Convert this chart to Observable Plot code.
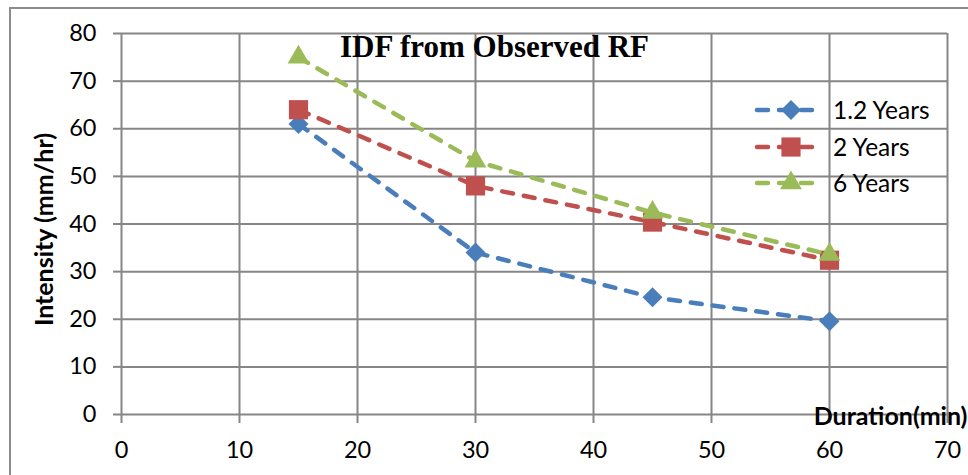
<!DOCTYPE html>
<html><head><meta charset="utf-8">
<script src="https://cdn.jsdelivr.net/npm/d3@7"></script>
<script src="https://cdn.jsdelivr.net/npm/@observablehq/plot@0.6"></script>
<style>
html,body{margin:0;padding:0;background:#fff;}
#wrap{position:relative;width:968px;height:475px;overflow:hidden;font-family:Lato,"Liberation Sans",Arial,sans-serif;background:#fff;}
#borderL{position:absolute;left:9px;top:7px;width:2px;height:470px;background:#8c8c8c;}
#borderT{position:absolute;left:9px;top:7px;width:962px;height:2px;background:#8c8c8c;}
#chart{position:absolute;left:0;top:0;}
#legend{position:absolute;left:750px;top:90px;}
</style></head><body>
<div id="wrap"><div id="borderL"></div><div id="borderT"></div><div id="chart"></div><div id="legend"></div></div>
<script>
// ---- data ----
const durations = [15, 30, 45, 60];
const seriesNames = ["1.2 Years", "2 Years", "6 Years"];
const years1_2 = [61, 34, 24.6, 19.6];
const years2 = [64, 48, 40.4, 32.4];
const years6 = [75, 53.2, 42.4, 33.6];
const xTicks = [0, 10, 20, 30, 40, 50, 60, 70];
const yTicks = [0, 10, 20, 30, 40, 50, 60, 70, 80];
const titleText = "IDF from Observed RF";
const xLabel = "Duration(min)";
const yLabel = "Intensity (mm/hr)";

const seriesValues = [years1_2, years2, years6];
const colors = ["#4A7EBB", "#C0504D", "#9BBB59"];
const symbols = ["diamond2", "square2", "triangle2"];
const radii = [9, 12.2, 10.4];
const sans = "Lato, 'Liberation Sans', Arial, sans-serif";

const rows = seriesNames.map((s, i) => durations.map((d, j) => ({series: s, duration: d, intensity: seriesValues[i][j]})));

const gridStyle = {stroke: "#868686", strokeOpacity: 1, strokeWidth: 2};
const seriesMarks = rows.flatMap((r, i) => [
  Plot.line(r, {x: "duration", y: "intensity", stroke: colors[i], strokeWidth: 4.5, strokeDasharray: "11,11", strokeLinecap: "round"}),
  Plot.dot(r, {x: "duration", y: "intensity", symbol: symbols[i], r: radii[i], fill: colors[i], stroke: "none"})
]);

const chart = Plot.plot({
  width: 968, height: 475,
  marginLeft: 121, marginRight: 21, marginTop: 33, marginBottom: 61,
  style: {background: "transparent", fontFamily: sans, color: "#000", overflow: "visible"},
  x: {domain: [0, 70]},
  y: {domain: [0, 80]},
  marks: [
    Plot.gridX(xTicks, gridStyle),
    Plot.gridY(yTicks, gridStyle),
    Plot.axisX(xTicks, {tickSize: 9, tickPadding: 18, fontSize: 23.5, stroke: "#868686", strokeWidth: 2, fill: "#000", label: null}),
    Plot.axisY(yTicks, {tickSize: 8, tickPadding: 17, fontSize: 23.5, stroke: "#868686", strokeWidth: 2, fill: "#000", label: null}),
    ...seriesMarks,
    Plot.text([titleText], {frameAnchor: "top", dx: -40, dy: 14, fontSize: 31, fontWeight: "bold", fontFamily: "'Liberation Serif', 'Times New Roman', serif", lineAnchor: "middle", fill: "#000"}),
    Plot.text([yLabel], {frameAnchor: "left", textAnchor: "middle", rotate: -90, dx: -77, dy: 5.5, fontSize: 25, fontWeight: "bold", lineAnchor: "middle", fill: "#000"}),
    Plot.text([xLabel], {frameAnchor: "bottom-right", textAnchor: "end", dx: 20, dy: 2.5, fontSize: 25, fontWeight: "bold", lineAnchor: "middle", fill: "#000"})
  ]
});
document.getElementById("chart").appendChild(chart);

// ---- legend ----
const lg = d3.select("#legend").append("svg").attr("width", 215).attr("height", 115)
  .style("font-family", sans).style("overflow", "visible");
const rowY = [20, 57, 93];
seriesNames.forEach((s, i) => {
  const g = lg.append("g").attr("transform", `translate(0,${rowY[i]})`);
  g.append("line").attr("x1", 7).attr("x2", 65).attr("y1", 0).attr("y2", 0)
    .attr("stroke", colors[i]).attr("stroke-width", 4.5).attr("stroke-dasharray", "11,11").attr("stroke-linecap", "round");
  g.append("path").attr("transform", "translate(41,0)")
    .attr("d", d3.symbol(i === 0 ? d3.symbolDiamond2 : i === 1 ? d3.symbolSquare2 : d3.symbolTriangle2, Math.PI * radii[i] * radii[i])())
    .attr("fill", colors[i]);
  g.append("text").attr("x", 83).attr("y", 0).attr("dy", "0.35em").attr("font-size", 24.5).attr("fill", "#000").text(s);
});
</script>
</body></html>
